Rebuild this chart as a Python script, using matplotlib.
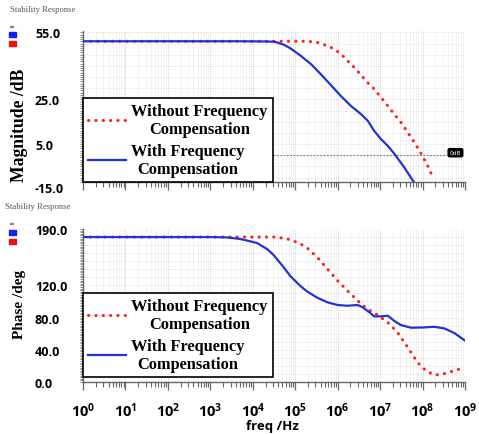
import numpy as np
import matplotlib
matplotlib.use('Agg')
import matplotlib.pyplot as plt
from matplotlib.ticker import FixedLocator, MultipleLocator, LogLocator, FuncFormatter, NullFormatter
from matplotlib.patches import Rectangle
from matplotlib.transforms import blended_transform_factory

# ── Style ─────────────────────────────────────────────────────────────
plt.rcParams.update({
    'font.family': 'Open Sans', 'font.weight': 'bold',
    'mathtext.fontset': 'custom',
    'mathtext.rm': 'Open Sans:bold', 'mathtext.bf': 'Open Sans:bold',
    'mathtext.it': 'Open Sans:bold',
})

RED = '#ff2222'
BLUE = '#2233d6'
SERIF = 'Liberation Serif'

# ── Data (log10 of frequency in Hz) ───────────────────────────────────
mag_with_logf = [0, 3.0, 3.7, 4.1, 4.3, 4.5, 4.6, 4.74, 4.89, 5.13, 5.37, 5.60, 5.84,
                 6.07, 6.31, 6.55, 6.71, 6.86, 7.02, 7.18, 7.34, 7.57, 7.79]
mag_with_db = [51, 51, 51, 50.95, 50.9, 50.8, 50.3, 49.4, 47.8, 44.5, 40.8, 36.3, 31.4,
               26.6, 22.1, 18.4, 15.4, 10.9, 7.2, 4.2, 0.5, -5.5, -11.9]

mag_without_logf = [0, 4.5, 5.0, 5.29, 5.52, 5.76, 5.92, 6.08, 6.23, 6.39, 6.55, 6.70,
                    6.86, 7.02, 7.18, 7.33, 7.49, 7.65, 7.81, 7.96, 8.12, 8.26]
mag_without_db = [51, 51, 51, 51.0, 50.5, 49.0, 47.5, 45.3, 42.3, 39.3, 35.9, 32.6,
                  29.6, 25.9, 22.1, 18.4, 14.7, 10.2, 5.7, 0.9, -4.7, -10.7]

ph_with_logf = [0, 3.0, 3.4, 3.71, 4.1, 4.34, 4.49, 4.73, 4.89, 5.13, 5.29, 5.52, 5.76,
                6.0, 6.23, 6.47, 6.59, 6.75, 6.86, 7.02, 7.18, 7.33, 7.49, 7.73, 8.04,
                8.27, 8.51, 8.75, 9.0]
ph_with_deg = [180, 180, 179.5, 177.6, 172.6, 165, 157.7, 142.4, 131.2, 118.8, 112.1,
               104.7, 98.9, 95.6, 94.7, 95.6, 92.7, 86.5, 81.5, 81.5, 82.3, 76, 70.7,
               67.4, 67.8, 68.6, 66.6, 60.8, 51.3]

ph_without_logf = [0, 4.49, 4.73, 4.89, 5.13, 5.29, 5.52, 5.76, 6.0, 6.23, 6.47, 6.70,
                   6.94, 7.18, 7.41, 7.65, 7.88, 8.08, 8.27, 8.43, 8.67, 9.0]
ph_without_deg = [180, 180, 178.5, 176.7, 171.4, 166, 154.8, 140.3, 125.8, 113.4, 100.9,
                  90.6, 83.2, 74, 61.6, 43, 24.4, 14, 9, 9, 12.8, 18.2]

mag_ticks = [55, 25, 5]
mag_extra_tick = -15
ph_ticks = [190, 120, 80, 40, 0]

labels = ['Without Frequency\nCompensation', 'With Frequency\nCompensation']

# ── Figure ────────────────────────────────────────────────────────────
W, H = 479, 435
fig = plt.figure(figsize=(W / 100, H / 100), dpi=100)
ax1 = fig.add_axes([83 / W, 1 - 183 / H, 382 / W, 151 / H])
ax2 = fig.add_axes([83 / W, 1 - 383 / H, 382 / W, 153 / H])

LABEL_X = 35  # left edge of y tick labels, px


def style_axis(ax, ylim, grid_step, minor_step, major_ticks):
    ax.set_xscale('log')
    ax.set_xlim(1, 1e9)
    ax.set_ylim(*ylim)
    for s in ['top', 'right']:
        ax.spines[s].set_visible(False)
    for s in ['left', 'bottom']:
        ax.spines[s].set_color('#666666')
        ax.spines[s].set_linewidth(1.0)
    ax.xaxis.set_major_locator(LogLocator(base=10, numticks=20))
    ax.xaxis.set_minor_locator(LogLocator(base=10, subs=np.arange(2, 10), numticks=20))
    ax.yaxis.set_major_locator(FixedLocator(major_ticks))
    ax.yaxis.set_minor_locator(MultipleLocator(minor_step))
    ax.tick_params(axis='x', which='major', length=6, width=0.9, color='#666666', direction='out')
    ax.tick_params(axis='x', which='minor', length=3.5, width=0.8, color='#666666', direction='out')
    ax.tick_params(axis='y', which='both', length=2.5, width=0.6, color='#777777', direction='out')
    ax.tick_params(axis='y', labelsize=9, pad=(83 - LABEL_X) * 0.72 - 2.5)
    ax.grid(True, axis='x', which='major', color='#d8d8d8', linewidth=0.6, linestyle=(0, (2, 1)))
    ax.grid(True, axis='x', which='minor', color='#e6e6e6', linewidth=0.5, linestyle=(0, (2, 1)))
    lo = np.ceil(ylim[0] / grid_step) * grid_step
    for yv in np.arange(lo, ylim[1], grid_step):
        ax.axhline(yv, color='#e0e0e0', linewidth=0.5, linestyle=(0, (2, 1)), zorder=0)
    ax.set_axisbelow(True)
    ax.yaxis.set_major_formatter(FuncFormatter(lambda v, p: f'{v:.1f}'))
    for lbl in ax.get_yticklabels():
        lbl.set_ha('left')


style_axis(ax1, (-12.0, 55.6), 5, 1, mag_ticks)
style_axis(ax2, (0, 190), 10, 2, ph_ticks)
ax1.xaxis.set_major_formatter(NullFormatter())
ax1.xaxis.set_minor_formatter(NullFormatter())
ax2.xaxis.set_major_formatter(FuncFormatter(lambda v, p: r'$\mathbf{10^{%d}}$' % round(np.log10(v))))
ax2.xaxis.set_minor_formatter(NullFormatter())
ax2.tick_params(axis='x', which='major', labelsize=10.5, pad=7)

# -15.0 label sits below the visible range
trans = blended_transform_factory(ax1.transAxes, ax1.transData)
ax1.text((LABEL_X - 83) / 382, mag_extra_tick, f'{mag_extra_tick:.1f}', transform=trans,
         ha='left', va='center', fontsize=9, fontweight='bold', clip_on=False)

# ── Curves ────────────────────────────────────────────────────────────
dot = (0, (0.1, 2.3))
for ax, (lf_wo, v_wo), (lf_w, v_w) in [
        (ax1, (mag_without_logf, mag_without_db), (mag_with_logf, mag_with_db)),
        (ax2, (ph_without_logf, ph_without_deg), (ph_with_logf, ph_with_deg))]:
    ax.plot(10 ** np.array(lf_wo), v_wo, color=RED, linewidth=2.2, linestyle=dot,
            dash_capstyle='round', label=labels[0], zorder=3)
    ax.plot(10 ** np.array(lf_w), v_w, color=BLUE, linewidth=1.6, label=labels[1], zorder=3)

# 0 dB reference
ax1.axhline(0, xmin=0, xmax=0.953, color='#777777', linewidth=0.8, linestyle=(0, (1.5, 1.5)), zorder=2)
ax1.annotate('0dB', xy=(0.975, 0), xycoords=trans, ha='center', va='bottom',
             fontsize=4.5, color='white', fontweight='normal',
             bbox=dict(boxstyle='round,pad=0.25', fc='black', ec='black'))

# ── Legends ───────────────────────────────────────────────────────────
for ax, yoff in [(ax1, 0.0), (ax2, 5 / 153)]:
    leg = ax.legend(loc='lower left', bbox_to_anchor=(0, yoff), borderaxespad=0,
                    prop={'family': SERIF, 'weight': 'bold', 'size': 11.8},
                    frameon=True, fancybox=False, framealpha=1, edgecolor='black',
                    handlelength=2.3, handletextpad=0.35, borderpad=0.3, labelspacing=0.35)
    leg.get_frame().set_linewidth(1.2)
    leg.set_zorder(5)
    for t in leg.get_texts():
        t.set_multialignment('center')

# ── Labels ────────────────────────────────────────────────────────────
fig.text(20 / W, 1 - 125 / H, 'Magnitude /dB', rotation=90, ha='center', va='center',
         family=SERIF, fontweight='bold', fontsize=12.7)
fig.text(20 / W, 1 - 304 / H, 'Phase /deg', rotation=90, ha='center', va='center',
         family=SERIF, fontweight='bold', fontsize=11)
fig.text(272 / W, 1 - 427 / H, 'freq /Hz', ha='center', va='center',
         fontsize=9.5, fontweight='bold')

for ytop in [10, 207]:
    fig.text((10 if ytop == 10 else 5) / W, 1 - ytop / H, 'Stability Response', ha='left',
             va='center', family=SERIF, fontweight='normal', fontsize=6.2, color='#555555')

for y_blue, y_red, y_dash in [(33, 42, 27), (231, 240, 224)]:
    fig.patches.append(Rectangle((9 / W, 1 - (y_blue + 4.5) / H), 7 / W, 4.5 / H,
                                 transform=fig.transFigure, color='#1020ee'))
    fig.patches.append(Rectangle((9 / W, 1 - (y_red + 4.5) / H), 7 / W, 4.5 / H,
                                 transform=fig.transFigure, color='#ee1010'))
    fig.patches.append(Rectangle((10 / W, 1 - (y_dash + 1) / H), 3 / W, 1 / H,
                                 transform=fig.transFigure, color='#888888'))

fig.savefig('out.png', dpi=100)
